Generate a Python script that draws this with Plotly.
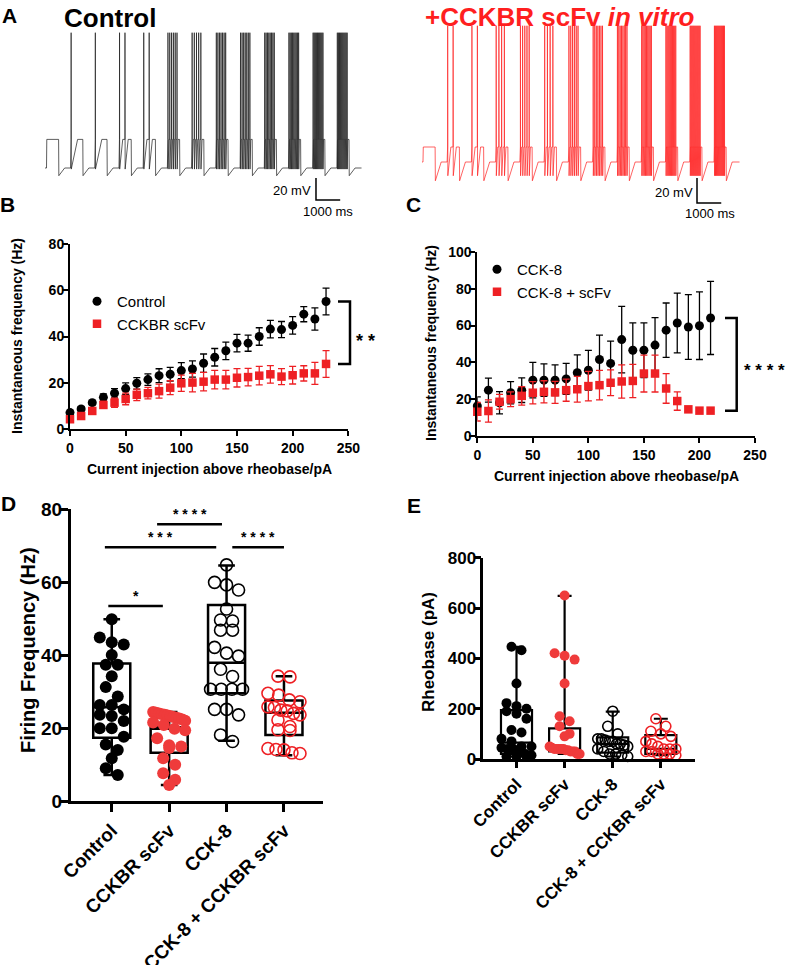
import plotly.graph_objects as go

W, H = 787, 965
FONT = "Liberation Sans, Arial, sans-serif"
RED = "#ee2024"
TRACE_RED = "#ff1f1f"

# ---------------- panel A : spikes fired on each current step ----------------
ctrl_spikes = [0, 1, 1, 2, 2, 6, 5, 7, 7, 8, 9, 10, 10]
scfv_spikes = [0, 2, 2, 4, 5, 4, 6, 7, 8, 9, 10, 11, 12]
# membrane levels (mV)
ctrl_levels = dict(base=-65, plateau=-39, peak=58, trough=-66, ahp=-72)
scfv_levels = dict(base=-65, plateau=-53, peak=44, trough=-76, ahp=-80)
STEP_PERIOD = 1000   # ms
STEP_LEN = 500       # ms

# ---------------- panel B ----------------
currents_b = [0, 10, 20, 30, 40, 50, 60, 70, 80, 90, 100, 110,
              120, 130, 140, 150, 160, 170, 180, 190, 200, 210, 220, 230]
control_b = [7.0, 8.6, 11.3, 13.6, 15.4, 17.4, 19.7, 21.3, 23.0, 23.6, 25.2, 25.9,
             28.4, 31.0, 33.8, 37.1, 37.1, 40.0, 43.2, 43.0, 44.8, 49.7, 47.6, 55.2]
control_b_sem = [1.0, 1.0, 1.0, 1.5, 2.0, 2.5, 2.5, 2.5, 3.0, 3.0, 3.5, 3.5,
                 4.0, 3.8, 3.8, 3.8, 3.5, 3.8, 3.8, 3.5, 3.8, 3.3, 4.8, 5.8]
scfv_b = [4.1, 5.5, 7.7, 10.3, 11.3, 12.9, 14.7, 15.4, 16.3, 17.8, 19.7, 20.0,
          20.4, 21.3, 21.3, 22.1, 22.4, 23.0, 23.6, 22.6, 23.2, 24.0, 24.0, 28.1]
scfv_b_sem = [1.0, 1.0, 1.0, 1.5, 2.0, 2.5, 2.5, 2.5, 3.0, 3.0, 3.5, 4.0,
              4.0, 4.0, 4.0, 4.0, 3.8, 4.0, 3.8, 3.5, 3.8, 3.3, 4.8, 5.8]

# ---------------- panel C ----------------
currents_c = [0, 10, 20, 30, 40, 50, 60, 70, 80, 90, 100,
              110, 120, 130, 140, 150, 160, 170, 180, 190, 200, 210]
cck8_c = [16.4, 25.0, 18.2, 23.6, 25.0, 30.4, 30.4, 30.4, 31.1, 34.4, 35.8,
          41.6, 39.5, 52.4, 46.6, 46.6, 49.4, 57.5, 61.4, 59.2, 59.9, 64.1]
cck8_c_sem = [5.0, 6.5, 6.0, 6.0, 6.7, 9.6, 8.8, 8.3, 8.4, 9.7, 10.8,
              13.2, 12.1, 18.0, 14.8, 14.8, 14.9, 14.7, 16.2, 17.5, 18.3, 19.8]
cck8_scfv_c = [13.3, 13.7, 18.7, 20.1, 21.9, 23.6, 24.1, 23.8, 25.0, 25.5, 27.2,
               27.7, 29.0, 29.7, 30.0, 34.0, 34.0, 25.9, 19.1, 14.6, 13.9, 13.9]
cck8_scfv_c_sem = [5.0, 6.0, 4.0, 4.0, 5.0, 6.0, 6.0, 6.0, 6.0, 7.0, 8.0,
                   8.0, 7.0, 9.0, 9.0, 10.0, 10.0, 8.0, 5.0, 1.0, 0.5, 0.5]

# ---------------- panel D : firing frequency (Hz) ----------------
groups = ["Control", "CCKBR scFv", "CCK-8", "CCK-8 + CCKBR scFv"]
d_control = [49.8, 44.8, 43.5, 42.9, 40.0, 37.3, 37.3, 34.2, 31.2, 28.6, 26.3, 26.3,
             25.1, 23.6, 23.3, 21.9, 19.9, 19.9, 17.6, 15.5, 14.0, 11.7, 9.0, 7.1]
d_scfv = [24.4, 24.2, 24.0, 23.8, 23.6, 23.4, 23.2, 23.0, 22.8, 22.6, 22.3, 22.0,
          21.5, 20.8, 19.8, 19.4, 17.2, 15.3, 14.9, 14.5, 11.7, 9.9, 7.6, 5.8, 4.4]
d_cck8 = [64.7, 59.9, 59.2, 57.8, 52.6, 49.6, 49.3, 46.8, 46.8, 42.1, 40.5, 39.7,
          36.1, 34.1, 30.6, 30.6, 30.6, 30.6, 25.1, 25.1, 23.6, 18.1, 16.3]
d_cck8_scfv = [34.2, 34.0, 29.5, 29.0, 27.7, 27.2, 25.8, 25.6, 24.9, 24.7, 24.0,
               23.6, 22.2, 20.4, 19.5, 19.3, 14.4, 14.1, 14.0, 13.2, 13.0]
d_q1 = [17.3, 13.2, 29.5, 18.1]
d_median = [25.7, 19.8, 37.9, 24.2]
d_q3 = [37.7, 20.2, 53.7, 27.5]
d_min = [7.1, 4.4, 16.5, 12.5]
d_max = [49.8, 24.4, 64.5, 34.2]

# ---------------- panel E : rheobase (pA) ----------------
e_control = [446, 432, 300, 222, 210, 200, 190, 180, 160, 115, 105, 80,
             70, 50, 50, 45, 40, 40, 30, 20, 15, 10, 10, 10]
e_scfv = [650, 420, 410, 395, 300, 170, 150, 130, 100, 90, 50, 45,
          40, 40, 40, 40, 40, 35, 35, 30, 30, 30, 20, 20]
e_cck8 = [190, 130, 100, 80, 80, 75, 70, 70, 60, 60, 55, 50, 40, 30, 20, 20, 15, 10]
e_cck8_scfv = [160, 130, 110, 100, 90, 70, 60, 50, 40, 40, 40, 30, 30, 20, 20, 20, 15]
e_q1 = [20, 30, 25, 20]
e_median = [65, 40, 60, 40]
e_q3 = [194, 122, 86, 95]
e_min = [10, 20, 10, 15]
e_max = [446, 648, 188, 160]


def px(x):
    return x / W


def py(y):
    return 1 - y / H


def to_paper(v, lo, hi, dom):
    return dom[0] + (v - lo) / (hi - lo) * (dom[1] - dom[0])


def membrane_trace(spikes, t_first, lv, t_end):
    # square current steps, spikes spread over each step
    t, v = [0.0], [lv["base"]]
    for k, n in enumerate(spikes):
        on = t_first + k * STEP_PERIOD
        off = on + STEP_LEN
        t += [on, on + 12]
        v += [lv["base"], lv["plateau"]]
        if n:
            gap = (STEP_LEN - 50) / n
            for s in range(n):
                ts = on + 15 + s * gap
                t += [ts, ts + 3, ts + 9, ts + 0.6 * gap]
                v += [lv["plateau"], lv["peak"], lv["trough"], lv["plateau"]]
        t += [off, off + 10, off + 250, on + STEP_PERIOD - 5]
        v += [lv["plateau"], lv["ahp"], lv["base"], lv["base"]]
    t.append(t_end)
    v.append(lv["base"])
    return t, v


def swarm(values, unit_px, diam, cat_px, max_span):
    # rows of near-equal values, spread symmetrically and squeezed to max_span
    order = sorted(range(len(values)), key=lambda i: -values[i])
    rows = []
    for i in order:
        if rows and abs(values[rows[-1][0]] - values[i]) * unit_px < diam * 0.8:
            rows[-1].append(i)
        else:
            rows.append([i])
    offs = [0.0] * len(values)
    for row in rows:
        n = len(row)
        step = diam if n < 2 else min(diam, max_span / (n - 1))
        for k, i in enumerate(row):
            offs[i] = (k - (n - 1) / 2) * step
    return [o / cat_px for o in offs]


# axis domains (paper) and ranges
dom = {
    "a1": ((px(45), px(362)), (py(210), py(25))),
    "a2": ((px(422), px(740)), (py(210), py(20))),
    "b": ((px(70), px(348.3)), (py(428.7), py(244.3))),
    "c": ((px(477.3), px(755)), (py(436.3), py(251.7))),
    "d": ((px(71), px(323)), (py(801), py(509))),
    "e": ((px(483.3), px(695)), (py(759), py(557.7))),
}
a1_xr = [0, 317 / 0.0242]
a1_yr = [-65 - (210 - 168) / 1.1, -65 + (168 - 25) / 1.1]
a2_xr = [0, 318 / 0.02425]
a2_yr = [-65 - (210 - 162) / 1.25, -65 + (162 - 20) / 1.25]
d_xr = [-0.71, 3.68]
e_xr = [-0.69, 3.71]

fig = go.Figure()

# ---- A traces
t1, v1 = membrane_trace(ctrl_spikes, 62, ctrl_levels, a1_xr[1] - 20)
fig.add_trace(go.Scatter(x=t1, y=v1, mode="lines", line=dict(color="#1a1a1a", width=0.7),
                         xaxis="x", yaxis="y", showlegend=False, hoverinfo="skip"))
t2, v2 = membrane_trace(scfv_spikes, 41, scfv_levels, a2_xr[1] - 20)
fig.add_trace(go.Scatter(x=t2, y=v2, mode="lines", line=dict(color=TRACE_RED, width=0.7),
                         xaxis="x2", yaxis="y2", showlegend=False, hoverinfo="skip"))

# scale bars (20 mV / 1000 ms)
for ax, t0, v0 in [("", 11198, -74.1), ("2", 11340, -77.8)]:
    fig.add_trace(go.Scatter(x=[t0, t0, t0 + 1000], y=[v0, v0 - 20, v0 - 20], mode="lines",
                             line=dict(color="black", width=1.5), xaxis="x" + ax, yaxis="y" + ax,
                             showlegend=False, hoverinfo="skip"))

# ---- B
fig.add_trace(go.Scatter(x=currents_b, y=control_b, mode="markers", name="Control",
                         marker=dict(color="black", size=9, symbol="circle"),
                         error_y=dict(type="data", array=control_b_sem, color="black", thickness=1.3, width=3.5),
                         xaxis="x3", yaxis="y3", legend="legend", cliponaxis=False))
fig.add_trace(go.Scatter(x=currents_b, y=scfv_b, mode="markers", name="CCKBR scFv",
                         marker=dict(color=RED, size=8.5, symbol="square"),
                         error_y=dict(type="data", array=scfv_b_sem, color=RED, thickness=1.3, width=3.5),
                         xaxis="x3", yaxis="y3", legend="legend", cliponaxis=False))

# ---- C
fig.add_trace(go.Scatter(x=currents_c, y=cck8_c, mode="markers", name="CCK-8",
                         marker=dict(color="black", size=9, symbol="circle"),
                         error_y=dict(type="data", array=cck8_c_sem, color="black", thickness=1.3, width=3.5),
                         xaxis="x4", yaxis="y4", legend="legend2", cliponaxis=False))
fig.add_trace(go.Scatter(x=currents_c, y=cck8_scfv_c, mode="markers", name="CCK-8 + scFv",
                         marker=dict(color=RED, size=8.5, symbol="square"),
                         error_y=dict(type="data", array=cck8_scfv_c_sem, color=RED, thickness=1.3, width=3.5),
                         xaxis="x4", yaxis="y4", legend="legend2", cliponaxis=False))

# ---- D and E : box + individual cells
styles = [
    dict(color="black", line=dict(color="black", width=0)),
    dict(color="#ef3b3b", line=dict(color="#ef3b3b", width=0)),
    dict(color="rgba(0,0,0,0)", line=dict(color="black", width=1.6)),
    dict(color="rgba(0,0,0,0)", line=dict(color=RED, width=1.6)),
]


def add_box_panel(vals_list, q1, med, q3, lo, hi, xa, ya, unit_px, cat_px, msize, lw, span):
    for i, vals in enumerate(vals_list):
        fig.add_trace(go.Box(x=[i], q1=[q1[i]], median=[med[i]], q3=[q3[i]],
                             lowerfence=[lo[i]], upperfence=[hi[i]], width=0.645,
                             whiskerwidth=0.45, line=dict(color="black", width=lw),
                             fillcolor="rgba(0,0,0,0)", boxpoints=False,
                             xaxis=xa, yaxis=ya, showlegend=False, hoverinfo="skip"))
    for i, vals in enumerate(vals_list):
        offs = swarm(vals, unit_px, msize, cat_px, span)
        fig.add_trace(go.Scatter(x=[i + o for o in offs], y=vals, mode="markers",
                                 marker=dict(size=msize, symbol="circle", **styles[i]),
                                 xaxis=xa, yaxis=ya, showlegend=False, cliponaxis=False))


d_sets = [d_control, d_scfv, d_cck8, d_cck8_scfv]
e_sets = [e_control, e_scfv, e_cck8, e_cck8_scfv]
add_box_panel(d_sets, d_q1, d_median, d_q3, d_min, d_max, "x5", "y5", 3.65, 57.4, 12, 2.5, 32)
add_box_panel(e_sets, e_q1, e_median, e_q3, e_min, e_max, "x6", "y6", 0.252, 48.1, 10, 2.2, 30)


def axis_style(lw, tl, fs, standoff=0):
    return dict(showline=True, linecolor="black", linewidth=lw, ticks="outside", ticklen=tl,
                tickwidth=lw, tickcolor="black", showgrid=False, zeroline=False, automargin=False,
                ticklabelstandoff=standoff,
                tickfont=dict(family=FONT, size=fs, color="black", weight="bold"))


hidden = dict(visible=False, showgrid=False, zeroline=False, automargin=False)

fig.update_layout(
    width=W, height=H, margin=dict(l=0, r=0, t=0, b=0, autoexpand=False),
    paper_bgcolor="white", plot_bgcolor="white",
    font=dict(family=FONT, color="black"),
    xaxis=dict(domain=dom["a1"][0], range=a1_xr, anchor="y", **hidden),
    yaxis=dict(domain=dom["a1"][1], range=a1_yr, anchor="x", **hidden),
    xaxis2=dict(domain=dom["a2"][0], range=a2_xr, anchor="y2", **hidden),
    yaxis2=dict(domain=dom["a2"][1], range=a2_yr, anchor="x2", **hidden),
    xaxis3=dict(domain=dom["b"][0], range=[0, 250], anchor="y3", tickvals=[0, 50, 100, 150, 200, 250],
                **axis_style(2, 5, 14)),
    yaxis3=dict(domain=dom["b"][1], range=[0, 80], anchor="x3", tickvals=[0, 20, 40, 60, 80],
                **axis_style(2, 6, 14, -5)),
    xaxis4=dict(domain=dom["c"][0], range=[0, 250], anchor="y4", tickvals=[0, 50, 100, 150, 200, 250],
                **axis_style(2, 5, 14)),
    yaxis4=dict(domain=dom["c"][1], range=[0, 100], anchor="x4", tickvals=[0, 20, 40, 60, 80, 100],
                **axis_style(2, 6, 14, -5)),
    xaxis5=dict(domain=dom["d"][0], range=d_xr, anchor="y5", tickvals=[0, 1, 2, 3], ticktext=groups,
                tickangle=-45, **axis_style(3, 8, 19)),
    yaxis5=dict(domain=dom["d"][1], range=[0, 80], anchor="x5", tickvals=[0, 20, 40, 60, 80],
                **axis_style(3, 8, 19, -6)),
    xaxis6=dict(domain=dom["e"][0], range=e_xr, anchor="y6", tickvals=[0, 1, 2, 3], ticktext=groups,
                tickangle=-45, **axis_style(2.5, 6, 17)),
    yaxis6=dict(domain=dom["e"][1], range=[0, 800], anchor="x6", tickvals=[0, 200, 400, 600, 800],
                **axis_style(2.5, 6, 17, -5)),
    legend=dict(x=px(77), y=py(285), xanchor="left", yanchor="top", bgcolor="rgba(0,0,0,0)",
                font=dict(family=FONT, size=15, color="black"), itemclick=False),
    legend2=dict(x=px(477), y=py(253), xanchor="left", yanchor="top", bgcolor="rgba(0,0,0,0)",
                 font=dict(family=FONT, size=15, color="black"), itemclick=False),
)

anns = []


def ann(text, x, y, size, bold=True, color="black", angle=0, xanchor="center"):
    anns.append(dict(text="<b>%s</b>" % text if bold else text, x=px(x), y=py(y), xref="paper",
                     yref="paper", showarrow=False, textangle=angle, xanchor=xanchor,
                     yanchor="middle", font=dict(family=FONT, size=size, color=color)))


# panel letters and titles
for letter, x, y in [("A", 9, 16), ("B", 7, 205), ("C", 413, 205), ("D", 8, 503), ("E", 414, 505)]:
    ann(letter, x, y, 21)
ann("Control", 110, 18, 26)
ann("+CCKBR scFv <i>in vitro</i>", 560, 17, 26, color=TRACE_RED)
ann("20 mV", 313, 190, 13, bold=False, xanchor="right")
ann("1000 ms", 328, 212, 13, bold=False)
ann("20 mV", 695, 192, 13, bold=False, xanchor="right")
ann("1000 ms", 710, 213, 13, bold=False)

# axis titles
ann("Instantaneous frequency (Hz)", 17, 336, 14, angle=-90)
ann("Current injection above rheobase/pA", 209.5, 469, 14)
ann("Instantaneous frequency (Hz)", 431, 343, 14, angle=-90)
ann("Current injection above rheobase/pA", 616, 476, 14)
ann("Firing Frequency (Hz)", 28, 650, 20, angle=-90)
ann("Rheobase (pA)", 428, 652, 17, angle=-90)

shapes = []
# B bracket between the last points of the two curves
yb1 = to_paper(control_b[-1], 0, 80, dom["b"][1])
yb2 = to_paper(scfv_b[-1], 0, 80, dom["b"][1])
shapes.append(dict(type="path", xref="paper", yref="paper", line=dict(color="black", width=2.5),
                   path="M %f,%f L %f,%f L %f,%f L %f,%f" % (px(338), yb1, px(350), yb1,
                                                              px(350), yb2, px(338), yb2)))
ann("* *", 365, 341, 18)
# C bracket
yc1 = to_paper(cck8_c[-1], 0, 100, dom["c"][1])
yc2 = to_paper(cck8_scfv_c[-1], 0, 100, dom["c"][1])
shapes.append(dict(type="path", xref="paper", yref="paper", line=dict(color="black", width=2.5),
                   path="M %f,%f L %f,%f L %f,%f L %f,%f" % (px(725), yc1, px(736.7), yc1,
                                                              px(736.7), yc2, px(725), yc2)))
ann("* * * *", 764.5, 370, 17)

# D comparisons: (x start, x end, height in Hz, label)
sig_d = [(-0.06, 0.89, 53.4, "*"), (-0.12, 1.82, 69.5, "* * *"),
         (0.79, 1.92, 75.8, "* * * *"), (2.1, 3.0, 69.5, "* * * *")]
for x0, x1, yv, lab in sig_d:
    shapes.append(dict(type="line", xref="x5", yref="y5", x0=x0, x1=x1, y0=yv, y1=yv,
                       line=dict(color="black", width=2.5)))
    anns.append(dict(text="<b>%s</b>" % lab, x=(x0 + x1) / 2, y=yv, xref="x5", yref="y5",
                     showarrow=False, yanchor="bottom", yshift=0,
                     font=dict(family=FONT, size=14, color="black")))

fig.update_layout(annotations=anns, shapes=shapes)
# page body has a default 8px margin; drop it so the figure sits at the window corner
fig.write_html("out.html", config={"displayModeBar": False},
               post_script="document.body.style.margin='0';")
